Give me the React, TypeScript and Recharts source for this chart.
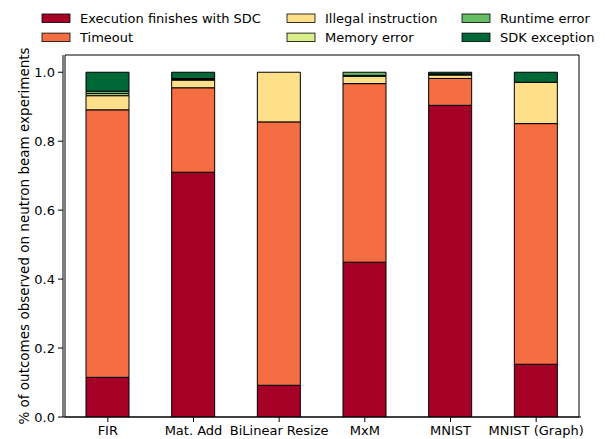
import { Bar, BarChart, Legend, ReferenceArea, XAxis, YAxis } from "recharts"

const categories = ["FIR", "Mat. Add", "BiLinear Resize", "MxM", "MNIST", "MNIST (Graph)"]
const sdc = [0.115, 0.71, 0.092, 0.449, 0.904, 0.153]
const timeout = [0.776, 0.245, 0.764, 0.518, 0.078, 0.698]
const illegal = [0.041, 0.022, 0.144, 0.021, 0.01, 0.12]
const memory = [0.006, 0.002, 0, 0.003, 0.002, 0]
const runtime = [0.007, 0.003, 0, 0.009, 0.001, 0]
const sdk = [0.055, 0.018, 0, 0, 0.005, 0.029]
const yTicks = [0, 0.2, 0.4, 0.6, 0.8, 1.0]

const series = [
  { key: "sdc", name: "Execution finishes with SDC", values: sdc, color: "#a50026" },
  { key: "timeout", name: "Timeout", values: timeout, color: "#f46d43" },
  { key: "illegal", name: "Illegal instruction", values: illegal, color: "#fee08b" },
  { key: "memory", name: "Memory error", values: memory, color: "#d9ef8b" },
  { key: "runtime", name: "Runtime error", values: runtime, color: "#66bd63" },
  { key: "sdk", name: "SDK exception", values: sdk, color: "#006837" },
]

const data = categories.map((name, i) => {
  const row: Record<string, string | number> = { name }
  series.forEach((s) => {
    row[s.key] = s.values[i]
  })
  return row
})

const font = "DejaVu Sans, sans-serif"
const legendCols = [42, 287, 462]

const LegendContent = () => (
  <svg width={605} height={50} style={{ position: "absolute", left: 0, top: 0 }}>
    {series.map((s, i) => {
      const col = Math.floor(i / 2)
      const row = i % 2
      const x = legendCols[col]
      const y = 18.2 + row * 19.1
      return (
        <g key={s.key}>
          <rect x={x} y={y - 4.2} width={28} height={8.5} fill={s.color} stroke="#000" strokeWidth={0.8} />
          <text x={x + 38} y={y} dominantBaseline="central" fontSize={13} fontFamily={font} fill="#000">
            {s.name}
          </text>
        </g>
      )
    })}
  </svg>
)

const App = () => {
  return (
    <div style={{ position: "absolute", left: 0, top: 0, width: 605, height: 439, background: "#fff" }}>
      <BarChart
        width={605}
        height={439}
        data={data}
        margin={{ top: 55, right: 24, bottom: 0, left: 0 }}
        style={{ fontFamily: font }}
      >
        <XAxis
          dataKey="name"
          height={22}
          padding={{ left: 2, right: 2 }}
          stroke="#000"
          tick={{ fill: "#000", fontSize: 13 }}
          tickSize={5}
          tickMargin={4}
          interval={0}
        />
        <YAxis
          width={63}
          domain={[0, 1.05]}
          ticks={yTicks}
          allowDataOverflow
          stroke="#000"
          tick={{ fill: "#000", fontSize: 13 }}
          tickSize={5}
          tickMargin={3}
          tickFormatter={(v: number) => v.toFixed(1)}
          label={{
            content: () => (
              <text
                x={24}
                y={236}
                transform="rotate(-90 24 236)"
                textAnchor="middle"
                dominantBaseline="central"
                fontSize={13.5}
                fontFamily={font}
                fill="#000"
              >
                % of outcomes observed on neutron beam experiments
              </text>
            ),
          }}
        />
        <ReferenceArea y1={0} y2={1.05} fill="none" stroke="#000" strokeWidth={1} ifOverflow="visible" />
        {series.map((s) => (
          <Bar
            key={s.key}
            dataKey={s.key}
            name={s.name}
            stackId="a"
            fill={s.color}
            stroke="#000"
            strokeWidth={1}
            barSize={43}
            isAnimationActive={false}
          />
        ))}
        <Legend content={() => <LegendContent />} wrapperStyle={{ position: "absolute", left: 0, top: 0 }} />
      </BarChart>
    </div>
  )
}

export default App
